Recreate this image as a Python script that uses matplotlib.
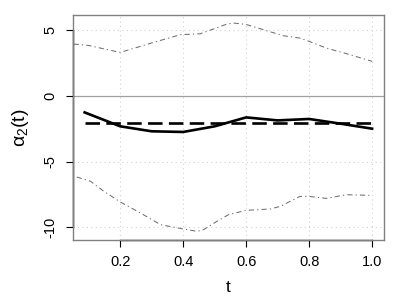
import matplotlib
matplotlib.use("Agg")
import matplotlib.pyplot as plt
import numpy as np

plt.rcParams['font.family'] = ['Liberation Sans', 'DejaVu Sans']
plt.rcParams['mathtext.fontset'] = 'custom'
plt.rcParams['mathtext.rm'] = 'Liberation Sans'
plt.rcParams['mathtext.it'] = 'Liberation Sans'
plt.rcParams['mathtext.bf'] = 'Liberation Sans:bold'

# estimate (solid)
t_est = [0.087, 0.2, 0.3, 0.4, 0.5, 0.6, 0.7, 0.8, 0.9, 1.0]
est = [-1.25, -2.31, -2.69, -2.74, -2.31, -1.63, -1.86, -1.75, -2.11, -2.49]

# true constant (dashed)
t_true = [0.087, 1.0]
true_val = [-2.09, -2.09]

# upper band
t_up = [0.052, 0.1, 0.15, 0.2, 0.3, 0.391, 0.454, 0.539, 0.559, 0.6, 0.718, 0.771, 0.8, 0.855, 0.929, 1.0]
up = [3.96, 3.85, 3.58, 3.32, 4.04, 4.67, 4.74, 5.48, 5.56, 5.45, 4.59, 4.41, 4.16, 3.65, 3.15, 2.64]

# lower band
t_lo = [0.062, 0.106, 0.148, 0.2, 0.264, 0.328, 0.4, 0.444, 0.465, 0.507, 0.544, 0.6, 0.676, 0.708, 0.771, 0.8, 0.855, 0.918, 1.0]
lo = [-6.17, -6.5, -7.26, -8.07, -8.91, -9.8, -10.13, -10.31, -10.18, -9.55, -9.04, -8.71, -8.61, -8.41, -7.65, -7.65, -7.8, -7.52, -7.57]

xticks = [0.2, 0.4, 0.6, 0.8, 1.0]
xticklabels = ['0.2', '0.4', '0.6', '0.8', '1.0']
yticks = [-10, -5, 0, 5]
yticklabels = ['-10', '-5', '0', '5']

fig = plt.figure(figsize=(4, 3), dpi=100)
ax = fig.add_axes([0.1825, 0.2, 0.959 - 0.1825, 0.75])
ax.set_xlim(0.050, 1.0365)
ax.set_ylim(-10.97, 6.17)

# grid
for x in xticks:
    ax.axvline(x, color='#d3d3d3', lw=0.8, ls=(0, (1, 3)), zorder=0)
for y in [-10, -5, 5]:
    ax.axhline(y, color='#d3d3d3', lw=0.8, ls=(0, (1, 3)), zorder=0)
ax.axhline(0, color='#a0a0a0', lw=0.9, zorder=1)

ax.plot(t_up, up, color='#707070', lw=0.75, ls=(0, (5, 3, 1.2, 3)))
ax.plot(t_lo, lo, color='#707070', lw=0.75, ls=(0, (5, 3, 1.2, 3)))
ax.plot(t_true, true_val, color='black', lw=1.9, ls=(0, (5.5, 2.4)))
ax.plot(t_est, est, color='black', lw=1.9)

for s in ax.spines.values():
    s.set_color('#808080')
    s.set_linewidth(1.0)

# axis lines (R style, from first to last tick)
ax.plot([0.2, 1.0], [0, 0], transform=ax.get_xaxis_transform(), color='black', lw=1.0, clip_on=False)
ax.plot([0, 0], [-10, 5], transform=ax.get_yaxis_transform(), color='black', lw=1.0, clip_on=False)

ax.set_xticks(xticks)
ax.set_xticklabels(xticklabels)
ax.set_yticks(yticks)
ax.set_yticklabels(yticklabels, rotation=90, va='center')
ax.tick_params(axis='both', direction='out', length=5, width=0.8, labelsize=10.5, color='black')
ax.tick_params(axis='x', pad=6)
ax.tick_params(axis='y', pad=6)

ax.set_xlabel('t', fontsize=12.5, labelpad=8)
ax.set_ylabel(r'$\alpha_2\mathrm{(t)}$', fontsize=14, labelpad=9)

fig.savefig('out.png', dpi=100)
